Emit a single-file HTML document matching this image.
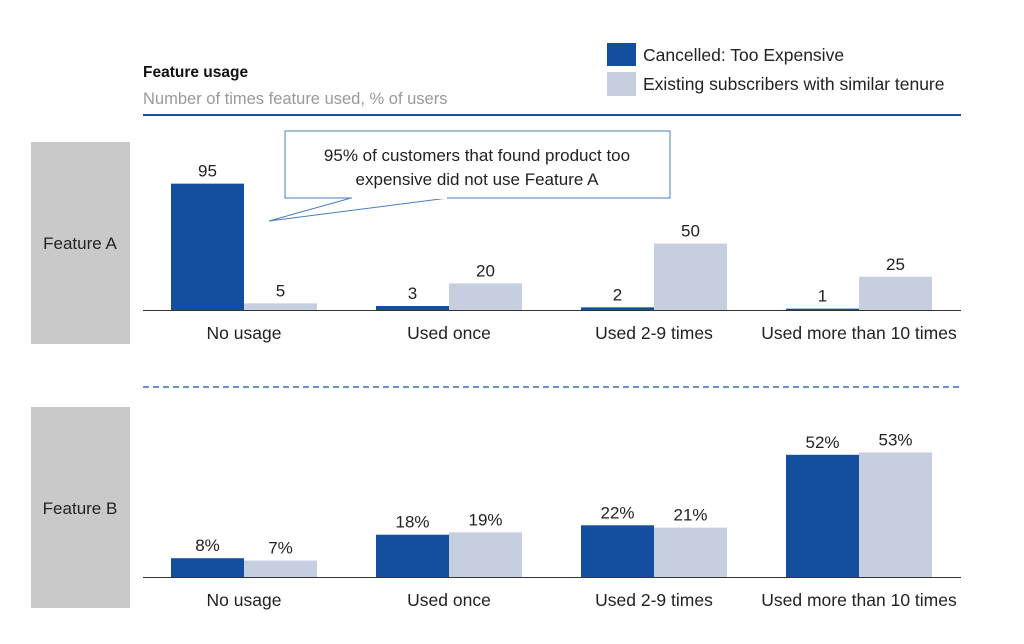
<!DOCTYPE html>
<html><head><meta charset="utf-8"><style>
body{margin:0;background:#fff;width:1024px;height:639px;overflow:hidden;font-family:"Liberation Sans",sans-serif}
svg text{font-family:"Liberation Sans",sans-serif}
</style></head><body>
<svg width="1024" height="639">
<text x="143" y="77" font-size="15.5" font-weight="bold" fill="#111">Feature usage</text>
<text x="143" y="104" font-size="16.5" fill="#999">Number of times feature used, % of users</text>
<line x1="143" y1="115" x2="961" y2="115" stroke="#1a4f9c" stroke-width="2"/>
<rect x="607" y="43" width="29" height="23" fill="#134e9f"/>
<text x="643" y="61" font-size="17.5" fill="#222">Cancelled:  Too Expensive</text>
<rect x="607" y="72" width="29" height="24" fill="#c5cfe0"/>
<text x="643" y="90" font-size="17.5" fill="#222">Existing subscribers with similar tenure</text>
<rect x="31" y="142" width="99" height="202" fill="#c9c9c9"/>
<text x="80" y="249" font-size="17" text-anchor="middle" fill="#222">Feature A</text>
<rect x="31" y="407" width="99" height="201" fill="#c9c9c9"/>
<text x="80" y="514" font-size="17" text-anchor="middle" fill="#222">Feature B</text>
<line x1="143" y1="387" x2="961" y2="387" stroke="#3a6fc0" stroke-width="1.5" stroke-dasharray="6,4"/>
<g id="bars"></g>
<polygon points="269,221 351,198 448,198" fill="#fff" stroke="#4a7cc2"/>
<rect x="285" y="131" width="385" height="67" fill="#fff" stroke="#4a7cc2"/>
<line x1="352" y1="198" x2="447" y2="198" stroke="#fff" stroke-width="2"/>
<text x="477" y="161" font-size="17" text-anchor="middle" fill="#222">95% of customers that found product too</text>
<text x="477" y="185" font-size="17" text-anchor="middle" fill="#222">expensive  did not use Feature A</text>
</svg>
<script>
const categories=["No usage","Used once","Used 2-9 times","Used more than 10 times"];
const featureACancelled=[95,3,2,1];
const featureAExisting=[5,20,50,25];
const featureBCancelled=[8,18,22,52];
const featureBExisting=[7,19,21,53];
const NS="http://www.w3.org/2000/svg";
const g=document.getElementById('bars');
function xPos(i){return 171+i*205;}
function mk(tag,attrs){const e=document.createElementNS(NS,tag);for(const k in attrs)e.setAttribute(k,attrs[k]);g.appendChild(e);return e;}
function panel(base,scale,c,e,suffix,key){
  const bl=mk('line',{x1:143,y1:base+0.5,x2:961,y2:base+0.5,stroke:'#333','stroke-width':1});
  
  
  categories.forEach((cat,i)=>{
    const x=xPos(i);
    [[c[i],'#134e9f',0,'cancelled'],[e[i],'#c5cfe0',73,'existing']].forEach(([v,col,dx,s])=>{
      const h=v*scale;
      const r=mk('rect',{x:x+dx,y:base-h,width:73,height:h,fill:col});
      
      
      const t=mk('text',{x:x+dx+36.5,y:base-h-7,'font-size':17,'text-anchor':'middle',fill:'#222'});
      t.textContent=v+suffix;
      
      
    });
    const l=mk('text',{x:x+73,y:base+29,'font-size':17.5,'text-anchor':'middle',fill:'#222'});
    l.textContent=cat;
    
    
  });
}
panel(310,1.33,featureACancelled,featureAExisting,'','feature-a');
panel(577,2.35,featureBCancelled,featureBExisting,'%','feature-b');
</script>
</body></html>
